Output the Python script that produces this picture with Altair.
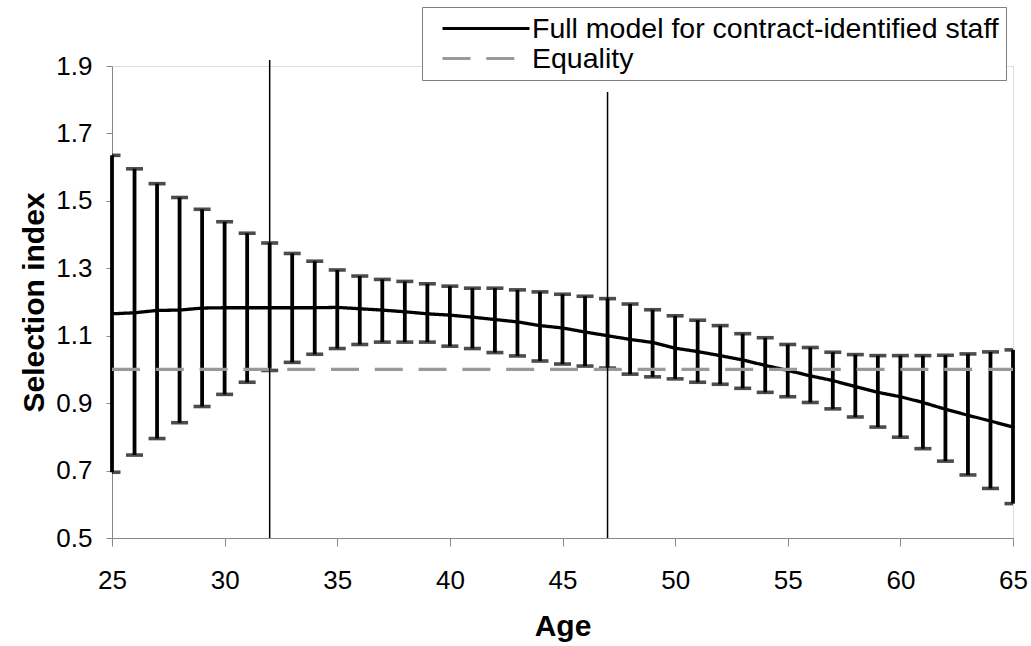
import altair as alt
import pandas as pd

ages = list(range(25, 66))
center = [1.165, 1.168, 1.175, 1.176, 1.182, 1.183, 1.183, 1.183, 1.183, 1.183,
          1.184, 1.180, 1.176, 1.171, 1.165, 1.161, 1.155, 1.148, 1.141, 1.130,
          1.123, 1.111, 1.100, 1.089, 1.080, 1.063, 1.053, 1.041, 1.028, 1.012,
          0.997, 0.981, 0.967, 0.949, 0.932, 0.919, 0.902, 0.882, 0.864, 0.847,
          0.829]
upper = [1.635, 1.595, 1.551, 1.510, 1.475, 1.438, 1.404, 1.375, 1.344, 1.321,
         1.295, 1.277, 1.267, 1.261, 1.254, 1.247, 1.241, 1.241, 1.236, 1.230,
         1.223, 1.217, 1.210, 1.194, 1.177, 1.159, 1.146, 1.130, 1.106, 1.094,
         1.074, 1.065, 1.051, 1.044, 1.041, 1.041, 1.041, 1.042, 1.046, 1.052,
         1.058]
lower = [0.695, 0.746, 0.795, 0.842, 0.890, 0.926, 0.962, 0.997, 1.021, 1.045,
         1.062, 1.074, 1.081, 1.081, 1.081, 1.069, 1.062, 1.050, 1.040, 1.025,
         1.016, 1.010, 1.004, 0.986, 0.978, 0.972, 0.962, 0.956, 0.944, 0.932,
         0.919, 0.902, 0.883, 0.859, 0.829, 0.799, 0.765, 0.728, 0.687, 0.647,
         0.602]

series_names = ["Full model for contract-identified staff", "Equality"]
equality_ages = [25, 65]
equality_value = [1.0, 1.0]

vline_ages = [32, 47]
vline_bottom = [0.5, 0.5]
vline_top = [1.918, 1.823]

x_ticks = [25, 30, 35, 40, 45, 50, 55, 60, 65]
y_ticks = [0.5, 0.7, 0.9, 1.1, 1.3, 1.5, 1.7, 1.9]

FONT = "Liberation Sans"

bars = pd.DataFrame({"age": ages, "lo": lower, "hi": upper})
lines = pd.concat([
    pd.DataFrame({"age": ages, "value": center, "series": series_names[0]}),
    pd.DataFrame({"age": equality_ages, "value": equality_value, "series": series_names[1]}),
], ignore_index=True)
vlines = pd.DataFrame({"age": vline_ages, "y0": vline_bottom, "y1": vline_top})

xscale = alt.Scale(domain=[25, 65], nice=False, zero=False)
yscale = alt.Scale(domain=[0.5, 1.9], nice=False, zero=False)

xaxis = alt.Axis(values=x_ticks, title="Age", grid=False, tickSize=8,
                 labelPadding=21, titlePadding=18, labelFontSize=26,
                 titleFontSize=30, labelFlush=False)
yaxis = alt.Axis(values=y_ticks, format=".1f", title="Selection index", grid=False,
                 tickSize=6, labelPadding=14, titlePadding=6, labelFontSize=26,
                 titleFontSize=30)

base_bars = alt.Chart(bars)
err_rule = base_bars.mark_rule(color="black", strokeWidth=3.8).encode(
    x=alt.X("age:Q", scale=xscale, axis=xaxis),
    y=alt.Y("lo:Q", scale=yscale, axis=yaxis),
    y2="hi:Q",
)
cap_hi = base_bars.mark_tick(color="black", orient="horizontal", size=17,
                             thickness=3.6, clip=True).encode(
    x=alt.X("age:Q", scale=xscale), y=alt.Y("hi:Q", scale=yscale))
cap_lo = base_bars.mark_tick(color="black", orient="horizontal", size=17,
                             thickness=3.6, clip=True).encode(
    x=alt.X("age:Q", scale=xscale), y=alt.Y("lo:Q", scale=yscale))

line_layer = alt.Chart(lines).mark_line(strokeWidth=3.3, strokeCap="butt").encode(
    x=alt.X("age:Q", scale=xscale),
    y=alt.Y("value:Q", scale=yscale),
    color=alt.Color("series:N",
                    scale=alt.Scale(domain=series_names, range=["#000000", "#999999"]),
                    legend=alt.Legend(title=None, orient="none", legendX=310, legendY=-59,
                                      symbolType="stroke", symbolSize=7569,
                                      symbolStrokeWidth=3, clipHeight=29, rowPadding=1,
                                      symbolOffset=12, labelOffset=1,
                                      labelFontSize=28.5, labelFont=FONT, labelColor="black",
                                      strokeColor="#808080", padding=7,
                                      fillColor="white", labelLimit=800)),
    strokeDash=alt.StrokeDash("series:N",
                              scale=alt.Scale(domain=series_names, range=[[1, 0], [28, 15.8]]),
                              legend=None),
    order=alt.Order("age:Q"),
)

vrules = alt.Chart(vlines).mark_rule(color="black", strokeWidth=1.5).encode(
    x=alt.X("age:Q", scale=xscale),
    y=alt.Y("y0:Q", scale=yscale),
    y2="y1:Q",
)

chart = alt.layer(err_rule, cap_hi, cap_lo, line_layer, vrules).properties(
    width=901, height=472,
    padding={"left": 112, "top": 66, "right": 18, "bottom": 108},
    autosize=alt.AutoSizeParams(type="none"),
).configure_view(stroke=None).configure_axis(
    domainColor="#808080", domainWidth=1.5, tickColor="#808080", tickWidth=1.5,
    labelColor="black", titleColor="black", labelFont=FONT, titleFont=FONT,
    titleFontWeight="bold",
).configure(background="white")

chart.save("out.html", embed_options={"renderer": "svg", "actions": False})
